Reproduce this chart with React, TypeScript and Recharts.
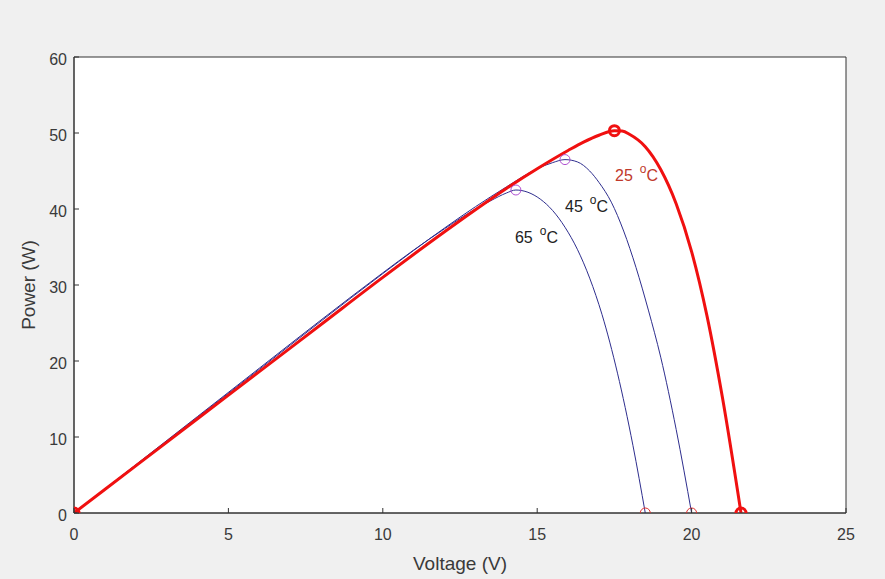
import React from 'react';
import {
  ComposedChart,
  Line,
  Scatter,
  XAxis,
  YAxis,
  ReferenceArea,
} from 'recharts';

// P-V curves (voltage V, power W)
const curve25 = [
  { v: 0, p: 0 }, { v: 2, p: 6.2 }, { v: 4, p: 12.4 }, { v: 6, p: 18.6 },
  { v: 8, p: 24.8 }, { v: 10, p: 31.0 }, { v: 12, p: 37.0 }, { v: 13, p: 39.9 },
  { v: 14, p: 42.7 }, { v: 15, p: 45.3 }, { v: 16, p: 47.7 }, { v: 16.5, p: 48.8 },
  { v: 17, p: 49.7 }, { v: 17.5, p: 50.3 }, { v: 17.75, p: 50.25 }, { v: 18, p: 49.8 },
  { v: 18.5, p: 48.2 }, { v: 19, p: 45.2 }, { v: 19.5, p: 40.7 }, { v: 20, p: 34.4 },
  { v: 20.5, p: 25.9 }, { v: 21, p: 15.15 }, { v: 21.6, p: 0 },
];

const curve45 = [
  { v: 0, p: 0 }, { v: 2, p: 6.3 }, { v: 4, p: 12.6 }, { v: 6, p: 18.9 },
  { v: 8, p: 25.25 }, { v: 10, p: 31.5 }, { v: 12, p: 37.5 }, { v: 13, p: 40.3 },
  { v: 14, p: 42.9 }, { v: 15, p: 45.3 }, { v: 15.5, p: 46.1 }, { v: 15.9, p: 46.5 },
  { v: 16.3, p: 46.2 }, { v: 16.7, p: 45.0 }, { v: 17, p: 43.5 }, { v: 17.4, p: 40.9 },
  { v: 17.8, p: 37.1 }, { v: 18.2, p: 32.3 }, { v: 18.6, p: 26.7 }, { v: 19, p: 20.5 },
  { v: 19.5, p: 11.0 }, { v: 20, p: 0 },
];

const curve65 = [
  { v: 0, p: 0 }, { v: 2, p: 6.35 }, { v: 4, p: 12.7 }, { v: 6, p: 19.05 },
  { v: 8, p: 25.4 }, { v: 10, p: 31.6 }, { v: 11, p: 34.6 }, { v: 12, p: 37.4 },
  { v: 13, p: 40.0 }, { v: 13.5, p: 41.1 }, { v: 14, p: 42.1 }, { v: 14.31, p: 42.5 },
  { v: 14.7, p: 42.2 }, { v: 15.1, p: 41.3 }, { v: 15.5, p: 39.8 }, { v: 15.9, p: 37.6 },
  { v: 16.3, p: 34.7 }, { v: 16.7, p: 30.9 }, { v: 17.1, p: 26.1 }, { v: 17.6, p: 18.4 },
  { v: 18.1, p: 8.9 }, { v: 18.5, p: 0 },
];

// marked points: start, maximum power, open circuit
const marks25 = [{ v: 0, p: 0 }, { v: 17.5, p: 50.3 }, { v: 21.6, p: 0 }];
const mppMarks = [{ v: 15.9, p: 46.5 }, { v: 14.31, p: 42.5 }];
const vocMarks = [{ v: 20.0, p: 0 }, { v: 18.5, p: 0 }];

const curveLabels = [
  { v: 17.52, p: 43.7, t: '25', color: '#c0392b' },
  { v: 15.9, p: 39.6, t: '45', color: '#222' },
  { v: 14.28, p: 35.5, t: '65', color: '#222' },
];

const xTicks = [0, 5, 10, 15, 20, 25];
const yTicks = [0, 10, 20, 30, 40, 50, 60];

const FONT = '"Liberation Sans", Arial, sans-serif';

const XTick = (props: any) => {
  const { x, y, payload } = props;
  return (
    <g>
      <line x1={x} y1={y} x2={x} y2={y - 5} stroke="#333" />
      <text x={x} y={y + 27} textAnchor="middle" fontSize={16} fill="#3a3a3a" fontFamily={FONT}>
        {payload.value}
      </text>
    </g>
  );
};

const YTick = (props: any) => {
  const { x, y, payload } = props;
  return (
    <g>
      <line x1={x} y1={y} x2={x + 5} y2={y} stroke="#333" />
      <text x={x - 7} y={y + 8} textAnchor="end" fontSize={16} fill="#3a3a3a" fontFamily={FONT}>
        {payload.value}
      </text>
    </g>
  );
};

const ring = (color: string, width: number) => (props: any) => (
  <circle cx={props.cx} cy={props.cy} r={5} fill="none" stroke={color} strokeWidth={width} />
);

const TempLabel = (props: any) => {
  const { cx, cy, payload } = props;
  return (
    <text x={cx} y={cy} fontSize={16} fill={payload.color} fontFamily={FONT}>
      {payload.t}
      <tspan fontSize={12} dx={7} dy={-8}>o</tspan>
      <tspan dy={8}>C</tspan>
    </text>
  );
};

export default function App() {
  return (
    <div style={{ position: 'fixed', top: 0, left: 0, width: 885, height: 579, background: '#f0f0f0' }}>
      <ComposedChart width={885} height={579} margin={{ top: 57, right: 39, bottom: 0, left: 0 }}>
        <ReferenceArea x1={0} x2={25} y1={0} y2={60} fill="#ffffff" fillOpacity={1} stroke="#333" strokeWidth={1} />
        <XAxis
          type="number"
          dataKey="v"
          domain={[0, 25]}
          ticks={xTicks}
          height={66}
          tickSize={0}
          tickMargin={0}
          tick={<XTick />}
          stroke="#333"
          allowDataOverflow
          label={{ value: 'Voltage (V)', position: 'insideBottom', offset: 9, fontSize: 19, fill: '#3a3a3a', fontFamily: FONT }}
        />
        <YAxis
          type="number"
          dataKey="p"
          domain={[0, 60]}
          ticks={yTicks}
          width={74}
          tickSize={0}
          tickMargin={0}
          tick={<YTick />}
          stroke="#333"
          allowDataOverflow
          label={{ value: 'Power (W)', angle: -90, position: 'insideLeft', offset: 28, fontSize: 19, fill: '#3a3a3a', fontFamily: FONT, style: { textAnchor: 'middle' } }}
        />
        <Line data={curve65} dataKey="p" type="monotone" stroke="#2e2e8e" strokeWidth={1} dot={false} isAnimationActive={false} />
        <Line data={curve45} dataKey="p" type="monotone" stroke="#2e2e8e" strokeWidth={1} dot={false} isAnimationActive={false} />
        <Line data={curve25} dataKey="p" type="monotone" stroke="#f01010" strokeWidth={3} dot={false} isAnimationActive={false} />
        <Scatter data={mppMarks} dataKey="p" shape={ring('#b050d0', 1)} isAnimationActive={false} />
        <Scatter data={vocMarks} dataKey="p" shape={ring('#e03030', 1)} isAnimationActive={false} />
        <Scatter data={marks25} dataKey="p" shape={ring('#f01010', 3)} isAnimationActive={false} />
        <Scatter data={curveLabels} dataKey="p" shape={<TempLabel />} isAnimationActive={false} />
      </ComposedChart>
    </div>
  );
}
